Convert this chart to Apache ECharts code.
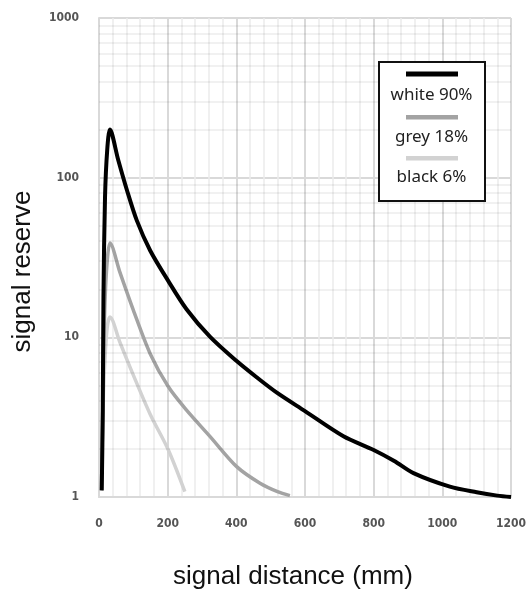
<!DOCTYPE html>
<html>
<head>
<meta charset="utf-8">
<script src="https://cdn.jsdelivr.net/npm/echarts@6/dist/echarts.min.js"></script>
<style>
html,body{margin:0;padding:0;background:#fff;}
#chart{width:526px;height:594px;}
</style>
</head>
<body>
<div id="chart"></div>
<script>
// ---- data ----
const seriesNames = ['white 90%', 'grey 18%', 'black 6%'];

const whiteX = [8, 11, 13, 17.5, 24, 32, 56, 81, 110, 149, 202, 255, 323, 401, 460, 518, 600, 712, 800, 860, 916, 1022, 1100, 1160, 1200];
const whiteY = [1.1, 3.5, 18, 75, 150, 200, 129, 84, 54, 35, 22.5, 15, 10.1, 7.1, 5.6, 4.5, 3.45, 2.4, 1.97, 1.68, 1.41, 1.16, 1.07, 1.02, 1.0];

const greyX = [7, 10, 13, 18, 25, 32, 61, 100, 149, 202, 255, 323, 401, 469, 520, 556];
const greyY = [1.1, 2.5, 7, 18, 32, 39, 25.5, 14.8, 7.9, 4.9, 3.5, 2.4, 1.55, 1.22, 1.08, 1.02];

const blackX = [6, 9, 13, 19, 25, 32, 61, 100, 149, 202, 250];
const blackY = [1.1, 2, 4.5, 8.5, 12, 13.4, 9.3, 5.8, 3.3, 1.97, 1.08];

const xTicks = [0, 200, 400, 600, 800, 1000, 1200];
const yTicks = [1, 10, 100, 1000];
const yMinorValues = [2, 3, 4, 5, 6, 7, 8, 9, 20, 30, 40, 50, 60, 70, 80, 90, 200, 300, 400, 500, 600, 700, 800, 900];

const colors = ['#000000', '#a3a3a3', '#d2d2d2'];

function pairs(xs, ys) { return xs.map((x, i) => [x, ys[i]]); }

const chart = echarts.init(document.getElementById('chart'));

const tickFont = { fontFamily: 'DejaVu Sans Condensed', fontSize: 12, fontWeight: 'bold', color: '#555', formatter: v => String(v) };

const LZ = 100;
const legendFont = '17px "Noto Sans"';

const option = {
  backgroundColor: '#fff',
  animation: false,
  grid: { left: 99, right: 15, top: 18, bottom: 97, containLabel: false, outerBoundsMode: 'none' },
  xAxis: {
    type: 'value',
    min: xTicks[0],
    max: xTicks[xTicks.length - 1],
    interval: 200,
    name: 'signal distance (mm)',
    nameLocation: 'middle',
    nameGap: 67,
    nameTextStyle: { fontFamily: 'Liberation Sans', fontSize: 26, color: '#111', padding: [0, 24, 0, 0] },
    axisLine: { show: true, lineStyle: { color: '#d9d9d9', width: 2 } },
    axisTick: { show: false },
    axisLabel: Object.assign({ margin: 21 }, tickFont),
    splitLine: { show: true, lineStyle: { color: '#d9d9d9', width: 2 } },
    minorTick: { show: false, splitNumber: 5 },
    minorSplitLine: { show: true, lineStyle: { color: '#ececec', width: 1.5 } }
  },
  yAxis: {
    type: 'log',
    logBase: 10,
    min: yTicks[0],
    max: yTicks[yTicks.length - 1],
    name: 'signal reserve',
    nameLocation: 'middle',
    nameGap: 63,
    nameTextStyle: { fontFamily: 'Liberation Sans', fontSize: 26, color: '#111', padding: [0, 28, 0, 0] },
    axisLine: { show: true, lineStyle: { color: '#d9d9d9', width: 2 } },
    axisTick: { show: false },
    axisLabel: Object.assign({ margin: 20 }, tickFont),
    splitLine: { show: true, lineStyle: { color: '#d9d9d9', width: 2 } }
  },
  series: [
    {
      name: 'minor',
      type: 'line',
      data: [],
      silent: true,
      z: 1,
      markLine: {
        silent: true,
        symbol: ['none', 'none'],
        label: { show: false },
        lineStyle: { type: 'solid', color: 'rgba(0,0,0,0.075)', width: 1.5 },
        data: yMinorValues.map(v => ({ yAxis: v }))
      }
    },
    {
      name: seriesNames[2], type: 'line', data: pairs(blackX, blackY),
      showSymbol: false, smooth: 0.3, z: 3,
      lineStyle: { color: colors[2], width: 3.5 }, itemStyle: { color: colors[2] }
    },
    {
      name: seriesNames[1], type: 'line', data: pairs(greyX, greyY),
      showSymbol: false, smooth: 0.3, z: 4,
      lineStyle: { color: colors[1], width: 3.5 }, itemStyle: { color: colors[1] }
    },
    {
      name: seriesNames[0], type: 'line', data: pairs(whiteX, whiteY),
      showSymbol: false, smooth: 0.3, z: 5,
      lineStyle: { color: colors[0], width: 4 }, itemStyle: { color: colors[0] }
    }
  ],
  graphic: [
    { type: 'rect', z: LZ, shape: { x: 379, y: 62, width: 106, height: 139 }, style: { fill: '#fff', stroke: '#111', lineWidth: 2 } },
    { type: 'rect', z: LZ + 1, shape: { x: 406, y: 71.5, width: 52, height: 5 }, style: { fill: colors[0] } },
    { type: 'text', z: LZ + 1, x: 431.5, y: 95, style: { text: seriesNames[0], font: legendFont, fill: '#222', align: 'center', verticalAlign: 'middle' } },
    { type: 'rect', z: LZ + 1, shape: { x: 406, y: 115, width: 52, height: 4.5 }, style: { fill: colors[1] } },
    { type: 'text', z: LZ + 1, x: 431.5, y: 137, style: { text: seriesNames[1], font: legendFont, fill: '#222', align: 'center', verticalAlign: 'middle' } },
    { type: 'rect', z: LZ + 1, shape: { x: 406, y: 156, width: 52, height: 4.5 }, style: { fill: colors[2] } },
    { type: 'text', z: LZ + 1, x: 431.5, y: 177, style: { text: seriesNames[2], font: legendFont, fill: '#222', align: 'center', verticalAlign: 'middle' } }
  ]
};
chart.setOption(option);
</script>
</body>
</html>
